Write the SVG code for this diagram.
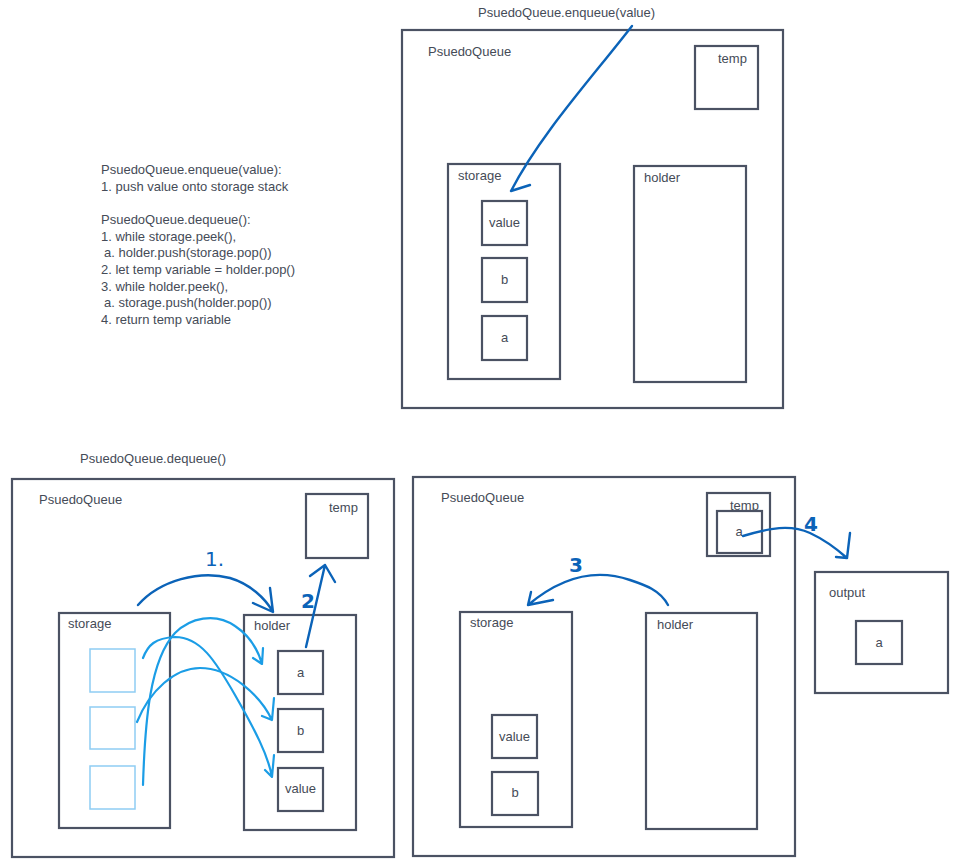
<svg xmlns="http://www.w3.org/2000/svg" width="959" height="865" viewBox="0 0 959 865">
<style>
.box{fill:#fff;stroke:#4b5263;stroke-width:2.2}
.lbox{fill:none;stroke:#8fcdf3;stroke-width:1.5}
text{font-family:"Liberation Sans",Arial,sans-serif;font-size:13px;fill:#454b57}
.c{text-anchor:middle}
.hw{font-family:"DejaVu Sans",sans-serif;fill:#0b63b8;font-size:20px}
.dk{fill:none;stroke:#0b63b8;stroke-width:2.4;stroke-linecap:round;stroke-linejoin:round}
.lt{fill:none;stroke:#1b9de6;stroke-width:2.2;stroke-linecap:round;stroke-linejoin:round}
</style>
<rect width="959" height="865" fill="#fff"/>

<g id="notes">
<text x="101" y="174">PsuedoQueue.enqueue(value):</text>
<text x="101" y="190.7">1. push value onto storage stack</text>
<text x="101" y="224">PsuedoQueue.dequeue():</text>
<text x="101" y="240.7">1. while storage.peek(),</text>
<text x="104" y="257.4">a. holder.push(storage.pop())</text>
<text x="101" y="274">2. let temp variable = holder.pop()</text>
<text x="101" y="290.7">3. while holder.peek(),</text>
<text x="104" y="307.4">a. storage.push(holder.pop())</text>
<text x="101" y="324">4. return temp variable</text>
</g>

<!-- Top panel: enqueue -->
<g id="enqueue-title"><text x="478" y="17">PsuedoQueue.enqueue(value)</text></g>
<g id="pq1"><rect class="box" x="402" y="30" width="381" height="378"/><text x="428" y="56">PsuedoQueue</text></g>
<g id="temp1"><rect class="box" x="695" y="46" width="63" height="63"/><text x="718" y="63">temp</text></g>
<g id="storage1"><rect class="box" x="448" y="164" width="112" height="215"/><text x="458" y="180">storage</text></g>
<g id="holder1"><rect class="box" x="634" y="166" width="112" height="216"/><text x="644" y="182">holder</text></g>
<g id="s1-value"><rect class="box" x="482" y="201" width="45" height="44"/><text class="c" x="504.5" y="227">value</text></g>
<g id="s1-b"><rect class="box" x="482" y="258" width="45" height="44"/><text class="c" x="504.5" y="284">b</text></g>
<g id="s1-a"><rect class="box" x="482" y="316" width="45" height="44"/><text class="c" x="504.5" y="342">a</text></g>

<!-- Bottom left: dequeue -->
<g id="dequeue-title"><text x="80" y="463">PsuedoQueue.dequeue()</text></g>
<g id="pq2"><rect class="box" x="12" y="479" width="382" height="378"/><text x="39" y="504">PsuedoQueue</text></g>
<g id="temp2"><rect class="box" x="306" y="494" width="62" height="64"/><text x="329" y="512">temp</text></g>
<g id="storage2"><rect class="box" x="59" y="613" width="111" height="215"/><text x="68" y="628">storage</text></g>
<g id="ghost1"><rect class="lbox" x="90" y="649" width="45" height="43"/></g>
<g id="ghost2"><rect class="lbox" x="90" y="707" width="45" height="42"/></g>
<g id="ghost3"><rect class="lbox" x="90" y="766" width="45" height="43"/></g>
<g id="holder2"><rect class="box" x="244" y="615" width="112" height="215"/><text x="254" y="630">holder</text></g>
<g id="h2-a"><rect class="box" x="278" y="651" width="45" height="43"/><text class="c" x="300.5" y="677">a</text></g>
<g id="h2-b"><rect class="box" x="278" y="709" width="45" height="43"/><text class="c" x="300.5" y="735">b</text></g>
<g id="h2-value"><rect class="box" x="278" y="768" width="45" height="43"/><text class="c" x="300.5" y="793">value</text></g>

<!-- Bottom right -->
<g id="pq3"><rect class="box" x="413" y="477" width="382" height="379"/><text x="441" y="502">PsuedoQueue</text></g>
<g id="temp3"><rect class="box" x="707" y="493" width="63" height="63"/><text x="730" y="510">temp</text>
<rect class="box" x="717" y="511" width="45" height="42"/><text class="c" x="739" y="536">a</text></g>
<g id="storage3"><rect class="box" x="460" y="612" width="112" height="215"/><text x="470" y="627">storage</text></g>
<g id="s3-value"><rect class="box" x="492" y="715" width="45" height="43"/><text class="c" x="514.5" y="741">value</text></g>
<g id="s3-b"><rect class="box" x="492" y="772" width="46" height="43"/><text class="c" x="515" y="797">b</text></g>
<g id="holder3"><rect class="box" x="646" y="613" width="111" height="216"/><text x="657" y="629">holder</text></g>
<g id="output"><rect class="box" x="815" y="572" width="133" height="121"/><text x="829" y="597">output</text></g>
<g id="out-a"><rect class="box" x="856" y="621" width="46" height="43"/><text class="c" x="879" y="647">a</text></g>

<g id="connectors">
<path class="dk" d="M632,26 C590,80 540,135 511,191 M530,185 L511,191"/>
<path class="dk" d="M138,605 C160,580 200,570 230,578 C250,584 265,598 273,612 M270,588 L273,612 L253,603"/>
<path class="dk" d="M306,647 C312,620 319,592 325,565 M310,576 L325,565 L335,582"/>
<path class="lt" d="M143,658 C148,645 155,638 175,637 C200,637 215,660 235,695 C255,730 268,755 272,777 M274,755 L272,777 L265,770"/>
<path class="lt" d="M137,722 C150,690 175,668 200,668 C230,668 260,695 272,720 M274,698 L272,720 L262,716"/>
<path class="lt" d="M143,785 C145,720 150,660 175,633 C190,618 215,612 235,626 C250,636 258,650 262,664 M263,648 L262,664 L253,658"/>
<path class="dk" d="M668,605 C660,590 645,585 630,580 C595,568 560,578 528,605 M531,592 L528,605 L553,600"/>
<path class="dk" d="M743,536 C770,528 790,524 810,533 C825,540 838,550 847,558 M850,533 L847,558 L836,557"/>
<text class="hw" x="205" y="566" font-size="19">1.</text>
<text class="hw" x="301" y="608" font-weight="bold" font-size="19">2</text>
<text class="hw" x="569" y="572" font-size="24" font-weight="bold">3</text>
<text class="hw" x="804" y="531" font-size="24" font-weight="bold">4</text>
</g>
</svg>
